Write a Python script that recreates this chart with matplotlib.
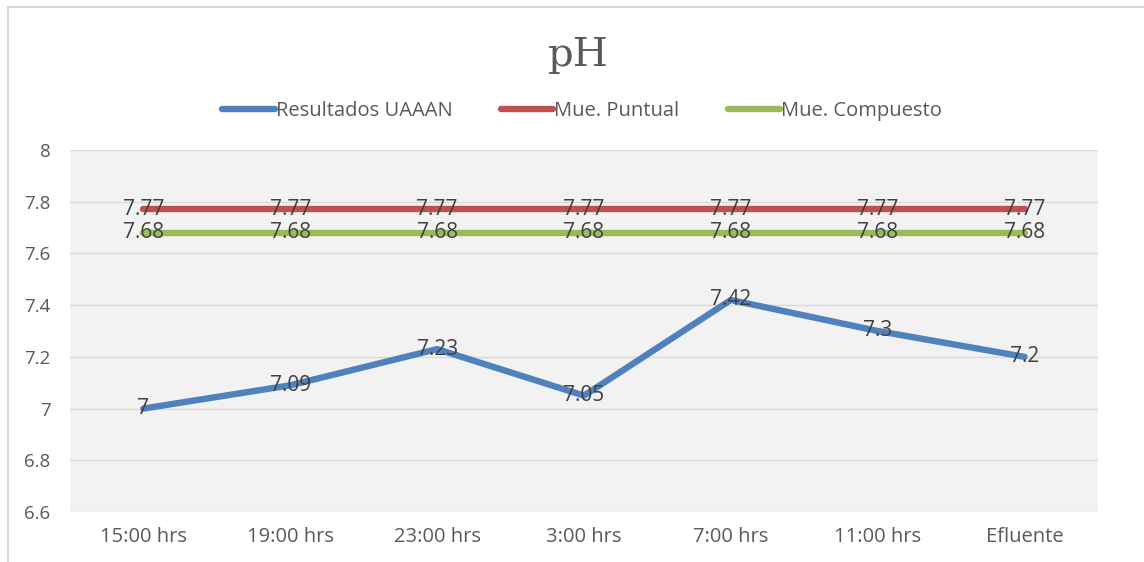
import matplotlib.pyplot as plt
from matplotlib.lines import Line2D

categories = ["15:00 hrs", "19:00 hrs", "23:00 hrs", "3:00 hrs", "7:00 hrs", "11:00 hrs", "Efluente"]
uaaan = [7, 7.09, 7.23, 7.05, 7.42, 7.3, 7.2]
puntual = [7.77] * 7
compuesto = [7.68] * 7

series = [
    ("Resultados UAAAN", uaaan, "#4f81bd"),
    ("Mue. Puntual", puntual, "#c0504d"),
    ("Mue. Compuesto", compuesto, "#9bbb59"),
]

plt.rcParams['font.family'] = ['Open Sans', 'DejaVu Sans']

fig = plt.figure(figsize=(11.44, 5.62), dpi=100)
ax = fig.add_axes([70 / 1144, 50 / 562, 1028 / 1144, 362 / 562])
ax.set_facecolor("#f2f2f2")

x = list(range(len(categories)))
for name, vals, col in series:
    ax.plot(x, vals, color=col, lw=4.6, solid_capstyle="round", label=name, zorder=3)
    for xi, v in zip(x, vals):
        ax.text(xi, v, "{:g}".format(v), ha="center", va="center",
                fontsize=15, color="#404040", zorder=4)

ax.set_xlim(-0.5, len(categories) - 0.5)
ax.set_ylim(6.6, 8)
ax.set_yticks([6.6, 6.8, 7, 7.2, 7.4, 7.6, 7.8, 8])
ax.set_yticklabels(["6.6", "6.8", "7", "7.2", "7.4", "7.6", "7.8", "8"])
ax.set_xticks(x)
ax.set_xticklabels(categories)
ax.tick_params(length=0, labelsize=13.5, colors="#595959")
ax.tick_params(axis="x", labelsize=14.5, pad=11)
ax.tick_params(axis="y", pad=14)
ax.grid(axis="y", color="#d9d9d9", lw=1)
ax.set_axisbelow(True)
for s in ax.spines.values():
    s.set_visible(False)

fig.text(578 / 1144, 1 - 55 / 562, "pH", ha="center", va="center",
         fontsize=29, family="DejaVu Serif", color="#595959")

leg = fig.legend(loc="center", bbox_to_anchor=(582 / 1144, 1 - 111 / 562), ncol=3,
                 frameon=False, fontsize=14.5, handlelength=2.6, handletextpad=0.05,
                 columnspacing=2.4)
for t in leg.get_texts():
    t.set_color("#595959")

# outer chart border
fig.add_artist(Line2D([8 / 1144, 8 / 1144], [0, 1 - 7 / 562], color="#d9d9d9", lw=1.5))
fig.add_artist(Line2D([8 / 1144, 1], [1 - 7 / 562, 1 - 7 / 562], color="#d9d9d9", lw=1.5))

fig.savefig("out.png", dpi=100)
